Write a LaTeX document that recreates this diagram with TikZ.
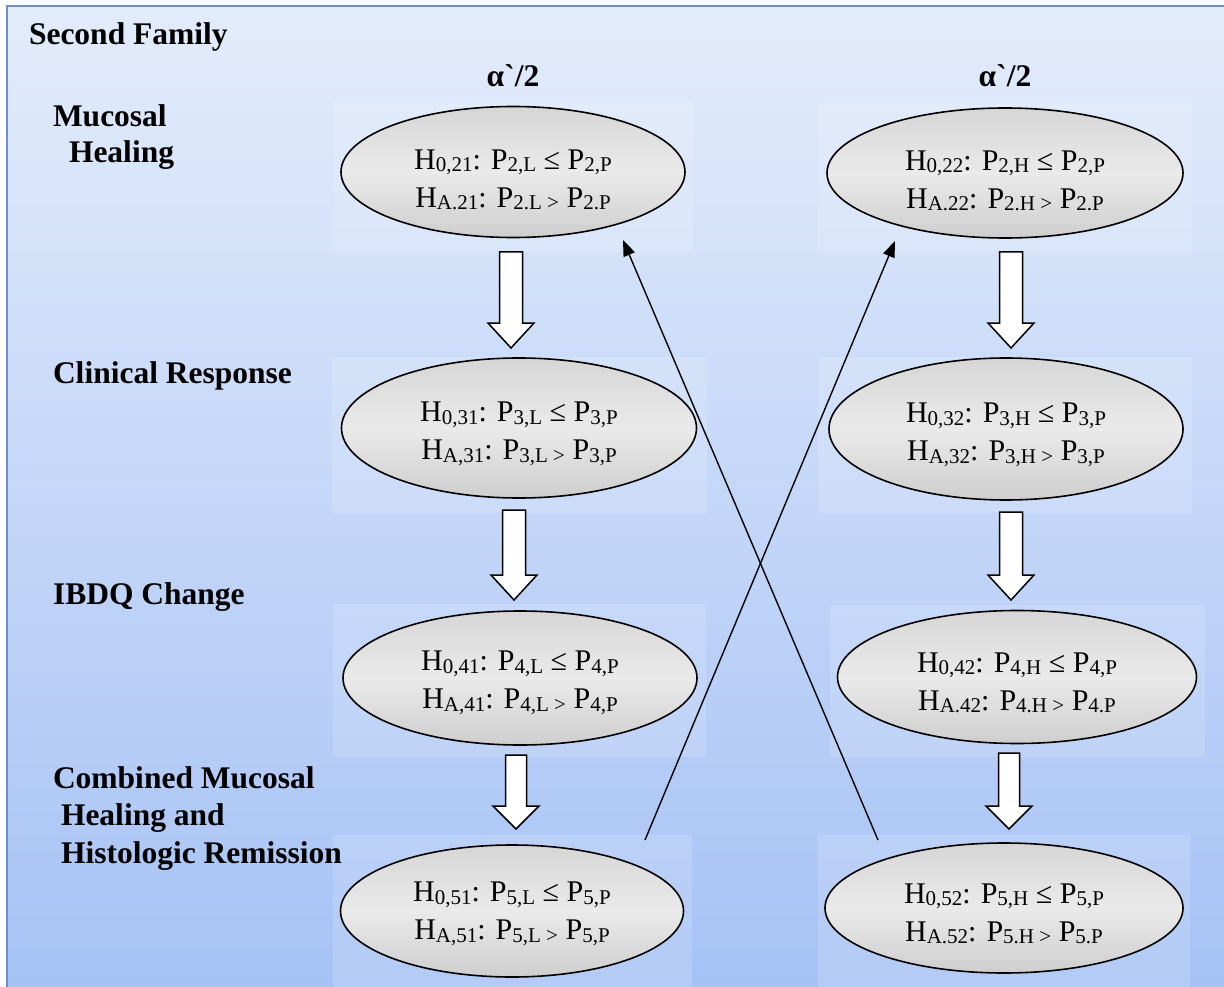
\documentclass[tikz,border=0pt]{standalone}
\usepackage{fontspec}
\setmainfont{Liberation Serif}
\newfontfamily\rawserif{Liberation Serif}[Ligatures=TeXOff]
\usetikzlibrary{arrows.meta,shapes.geometric,calc}

\definecolor{bgtop}{HTML}{E3ECFB}
\definecolor{bgbot}{HTML}{A6C2F5}
\definecolor{framecol}{HTML}{6E90C4}
\definecolor{ovtop}{HTML}{D6D6D6}
\definecolor{ovmid}{HTML}{EAEAEA}
\definecolor{ovbot}{HTML}{CECECE}

% lowered, smaller index text
\newcommand\lo[1]{\raisebox{-2.5pt}{\fontsize{21}{21}\selectfont #1}}
% grave mark used in the alpha headings
\newcommand\gravemark{{\rawserif\bfseries\symbol{96}}}
% white block arrow pointing down: x, top, head start, tip, half shaft width
\newcommand\blockdown[5]{%
  \draw[blockarr] ({#1-#5},#2) -- ({#1+#5},#2) -- ({#1+#5},#3) -- ({#1+23},#3)
    -- (#1,#4) -- ({#1-23},#3) -- ({#1-#5},#3) -- cycle;}

\begin{document}
\begin{tikzpicture}[x=1pt,y=-1pt,
  every node/.style={inner sep=0pt,outer sep=0pt},
  rowlabel/.style={anchor=base west,font=\fontsize{31.5}{37}\selectfont\bfseries},
  alphalabel/.style={anchor=base,font=\fontsize{31.5}{37}\selectfont\bfseries},
  hyp/.style={ellipse,draw=black,line width=1.6pt,
    top color=ovtop,bottom color=ovbot,middle color=ovmid},
  hyptext/.style={align=center,font=\fontsize{30}{38}\selectfont},
  panel/.style={fill=white,fill opacity=0.15},
  blockarr/.style={draw=black,fill=white,line width=1.5pt,line join=miter},
  cross/.style={draw=black,line width=1.4pt,-{Triangle[length=16pt,width=12pt]}}
]
\useasboundingbox (0,0) rectangle (1224,987);

% page and shaded frame
\fill[white] (0,0) rectangle (1224,987);
\shade[top color=bgtop,bottom color=bgbot] (7,6) rectangle (1224,987);
\draw[framecol,line width=2pt] (7,987) -- (7,6) -- (1224,6);

% light panels behind the hypotheses
\fill[panel] (333,102) rectangle (693,252);
\fill[panel] (818,102) rectangle (1192,252);
\fill[panel] (332,357) rectangle (707,513);
\fill[panel] (818,357) rectangle (1192,513);
\fill[panel] (333,604) rectangle (706,757);
\fill[panel] (830,605) rectangle (1205,757);
\fill[panel] (333,835) rectangle (692,987);
\fill[panel] (818,835) rectangle (1190,987);

% headings
\node[rowlabel] (fam) at (29,45) {Second Family};
\node[alphalabel] (alphaL) at (513,87) {α\gravemark/2};
\node[alphalabel] (alphaR) at (1005,87) {α\gravemark/2};
\node[rowlabel] (mh1) at (53,127) {Mucosal};
\node[rowlabel] (mh2) at (69,163) {Healing};
\node[rowlabel] (cr) at (53,383) {Clinical Response};
\node[rowlabel] (ib) at (53,604) {IBDQ Change};
\node[rowlabel] (cm1) at (53,788) {Combined Mucosal};
\node[rowlabel] (cm2) at (61,825) {Healing and};
\node[rowlabel] (cm3) at (61,863) {Histologic Remission};

% hypothesis ellipses
\node[hyp,minimum width=344,minimum height=131] (l1) at (513,172) {};
\node[hyp,minimum width=356,minimum height=130] (r1) at (1005,173) {};
\node[hyp,minimum width=355,minimum height=140] (l2) at (519,428) {};
\node[hyp,minimum width=354,minimum height=142] (r2) at (1006,429) {};
\node[hyp,minimum width=354,minimum height=134] (l3) at (520,678) {};
\node[hyp,minimum width=359,minimum height=133] (r3) at (1017,677) {};
\node[hyp,minimum width=343,minimum height=132] (l4) at (512,911) {};
\node[hyp,minimum width=358,minimum height=130] (r4) at (1004,908) {};

\node[hyptext] (l1t) at ($(l1.center)+(0,8)$)
  {H\lo{0,21}: P\lo{2,L} ≤ P\lo{2,P}\\H\lo{A.21}: P\lo{2.L >} P\lo{2.P}};
\node[hyptext] (r1t) at ($(r1.center)+(0,8)$)
  {H\lo{0,22}: P\lo{2,H} ≤ P\lo{2,P}\\H\lo{A.22}: P\lo{2.H >} P\lo{2.P}};
\node[hyptext] (l2t) at ($(l2.center)+(0,6)$)
  {H\lo{0,31}: P\lo{3,L} ≤ P\lo{3,P}\\H\lo{A,31}: P\lo{3,L >} P\lo{3,P}};
\node[hyptext] (r2t) at ($(r2.center)+(0,6)$)
  {H\lo{0,32}: P\lo{3,H} ≤ P\lo{3,P}\\H\lo{A,32}: P\lo{3,H >} P\lo{3,P}};
\node[hyptext] (l3t) at ($(l3.center)+(0,5)$)
  {H\lo{0,41}: P\lo{4,L} ≤ P\lo{4,P}\\H\lo{A,41}: P\lo{4,L >} P\lo{4,P}};
\node[hyptext] (r3t) at ($(r3.center)+(0,6)$)
  {H\lo{0,42}: P\lo{4,H} ≤ P\lo{4,P}\\H\lo{A.42}: P\lo{4.H >} P\lo{4.P}};
\node[hyptext] (l4t) at ($(l4.center)+(0,3)$)
  {H\lo{0,51}: P\lo{5,L} ≤ P\lo{5,P}\\H\lo{A,51}: P\lo{5,L >} P\lo{5,P}};
\node[hyptext] (r4t) at ($(r4.center)+(0,6)$)
  {H\lo{0,52}: P\lo{5,H} ≤ P\lo{5,P}\\H\lo{A.52}: P\lo{5.H >} P\lo{5.P}};

% sequential block arrows
\blockdown{511}{252}{323}{348}{11.5}
\blockdown{1011}{252}{323}{348}{11.5}
\blockdown{514}{510}{575}{600}{11.5}
\blockdown{1011}{512}{575}{600}{11.5}
\blockdown{516}{755}{806}{829}{10.5}
\blockdown{1009}{753}{806}{829}{10.5}

% crossing transfer arrows
\coordinate (fromL4) at (645,840);
\coordinate (toR1) at (895,241);
\coordinate (fromR4) at (878,840);
\coordinate (toL1) at (623,240);
\draw[cross] (fromL4) -- (toR1);
\draw[cross] (fromR4) -- (toL1);
\end{tikzpicture}
\end{document}
